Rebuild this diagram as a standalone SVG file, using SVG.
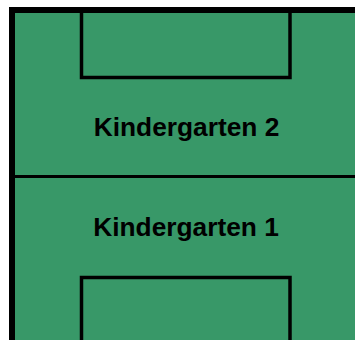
<svg xmlns="http://www.w3.org/2000/svg" width="355" height="340" viewBox="0 0 355 340">
<style>
.line{fill:none;stroke:#000;}
.lbl{font-family:"Liberation Sans",Arial,sans-serif;font-weight:bold;font-size:26.3px;fill:#000;text-anchor:middle;}
</style>
<rect x="0" y="0" width="355" height="340" fill="#ffffff"/>
<g id="field">
<rect x="12" y="10" width="360" height="350" fill="#389868" stroke="#000" stroke-width="6"/>
<line class="line" x1="15" y1="176.5" x2="355" y2="176.5" stroke-width="3"/>
</g>
<g id="goal-top">
<path class="line" d="M81.5,13 V77.5 H290 V13" stroke-width="3.5"/>
</g>
<g id="goal-bottom">
<path class="line" d="M81.5,340 V277.5 H290 V340" stroke-width="3.5"/>
</g>
<g id="kindergarten-2">
<text class="lbl" x="186.5" y="136">Kindergarten 2</text>
</g>
<g id="kindergarten-1">
<text class="lbl" x="186" y="236">Kindergarten 1</text>
</g>
</svg>
